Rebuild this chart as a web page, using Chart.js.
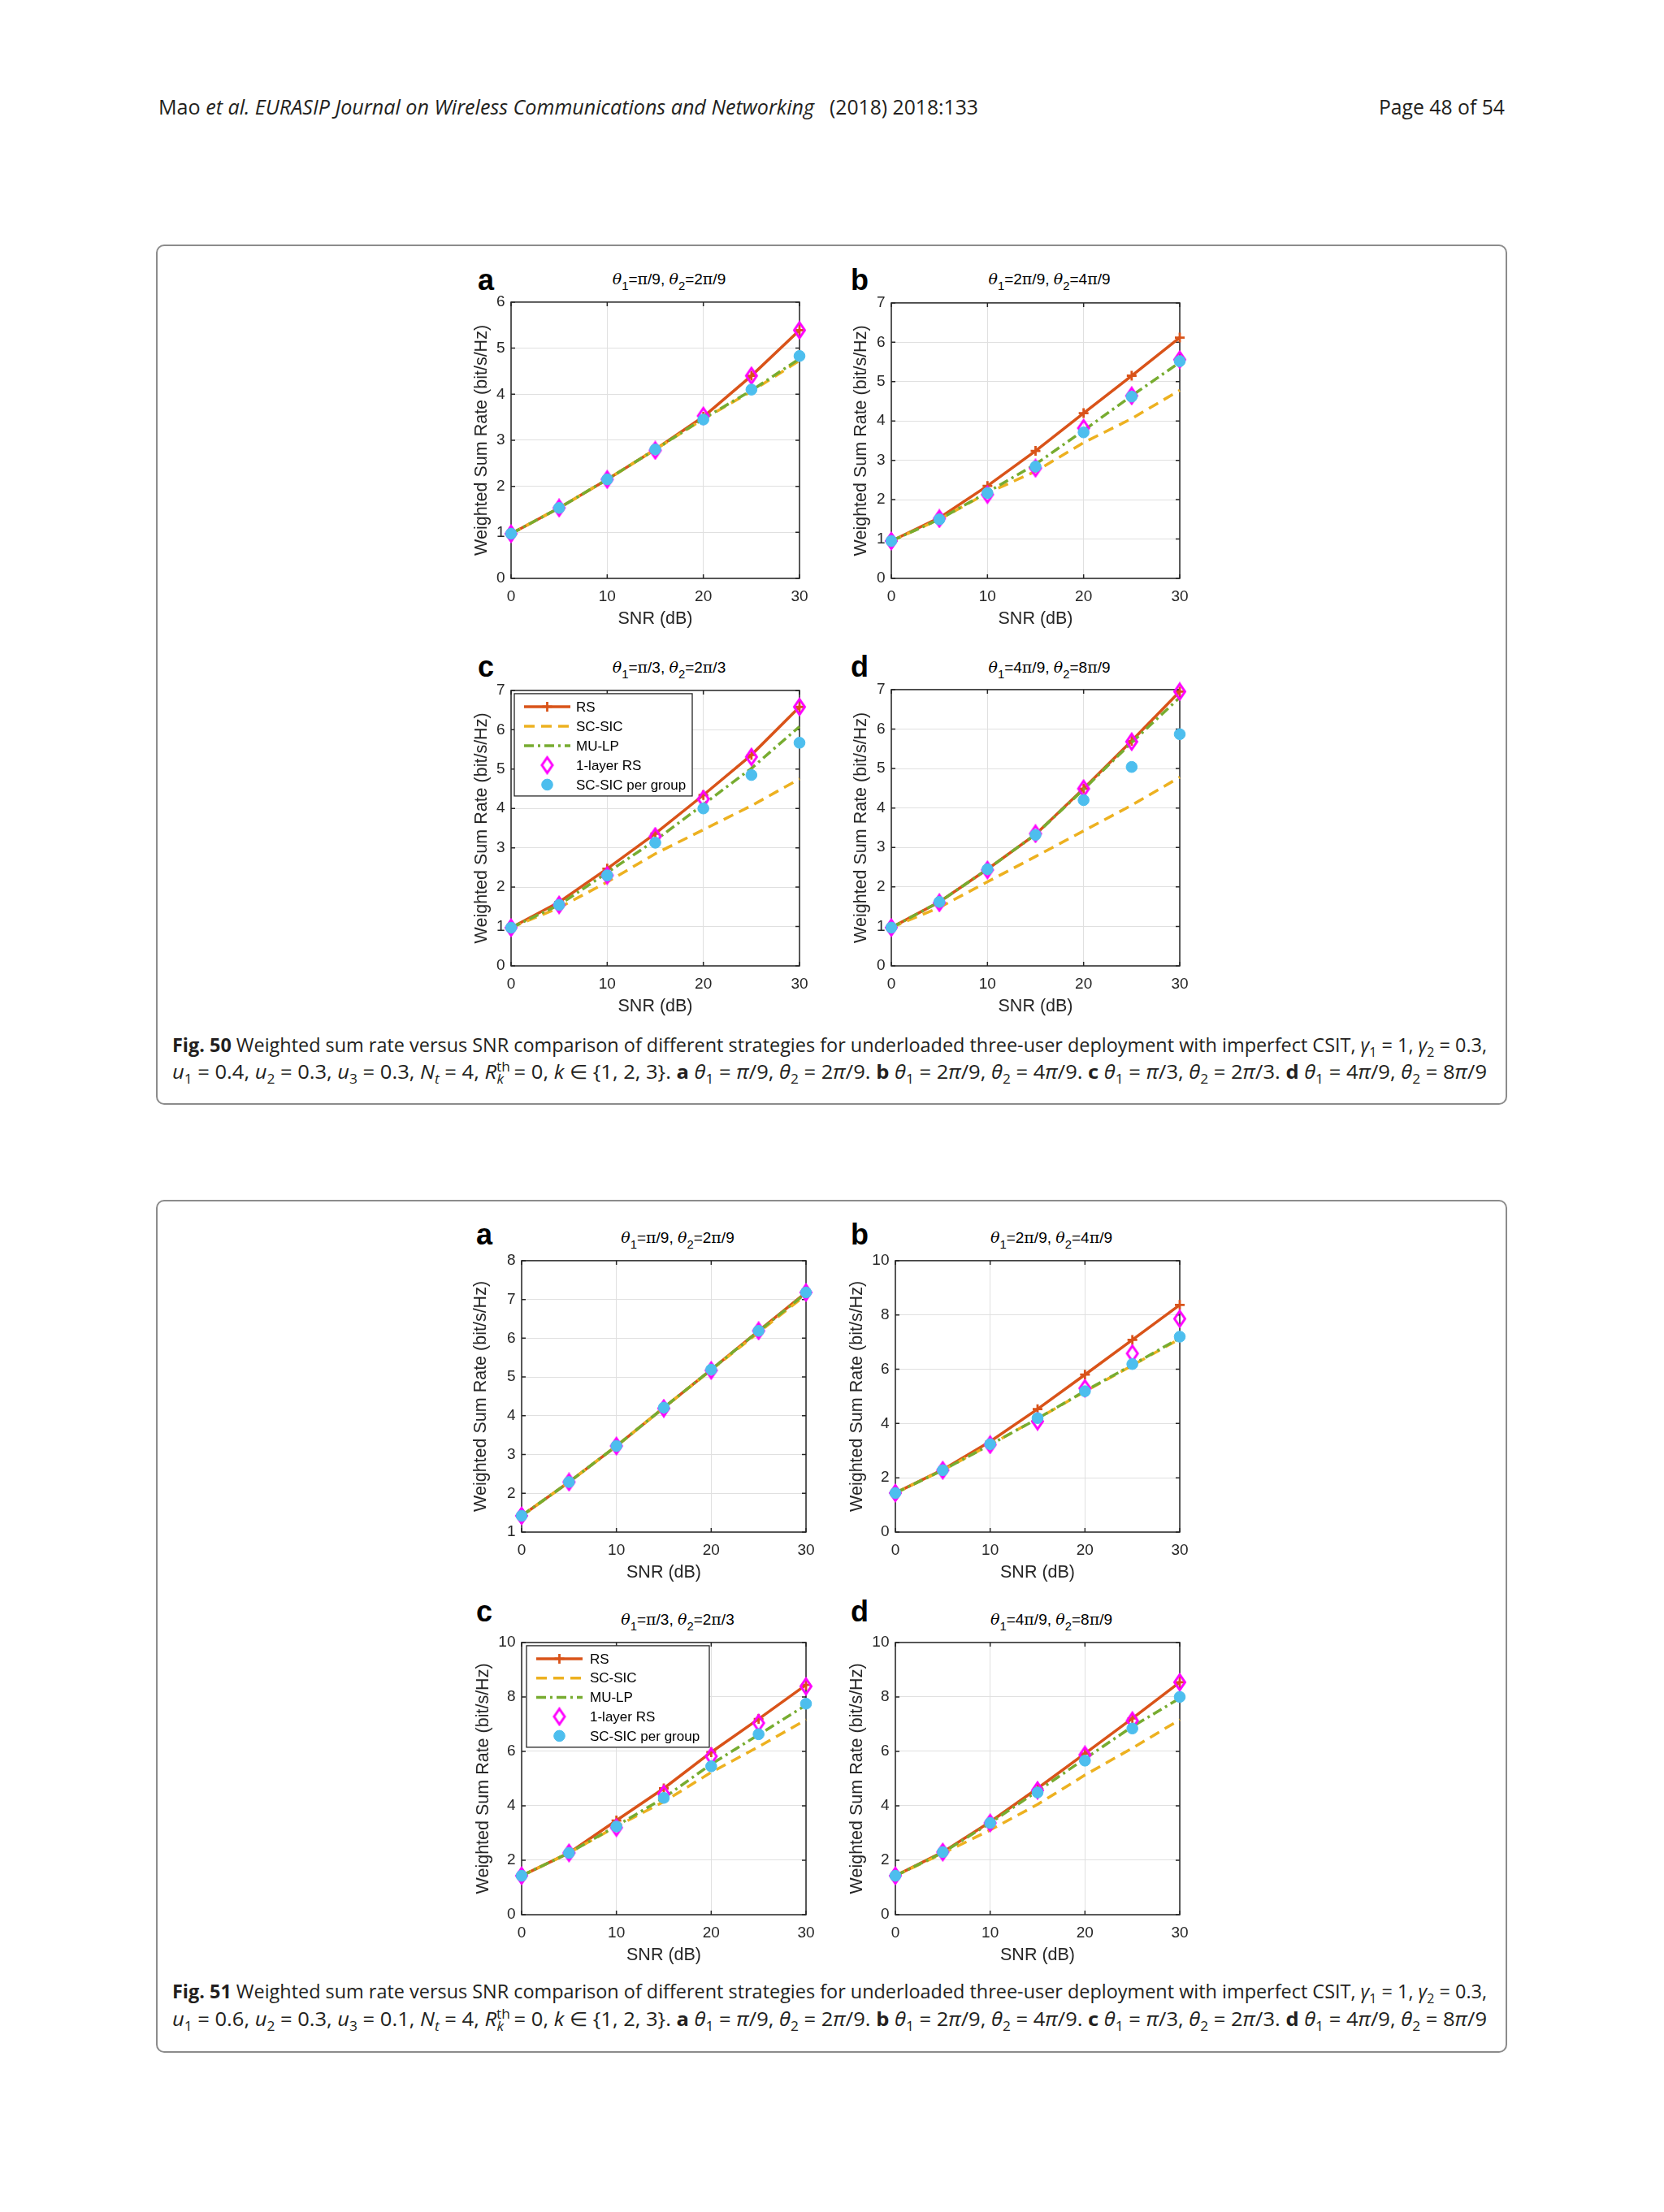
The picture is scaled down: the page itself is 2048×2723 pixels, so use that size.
<!DOCTYPE html>
<html lang="en">
<head>
<meta charset="utf-8">
<title>Weighted sum rate versus SNR</title>
<script src="https://cdn.jsdelivr.net/npm/chart.js@4.4.1/dist/chart.umd.min.js"></script>
<style>
  html, body { margin: 0; padding: 0; background: #fff; }
  body { position: relative; width: 2048px; height: 2723px; overflow: hidden; color: #231f20; }
  .txt { position: absolute; white-space: nowrap; line-height: 1; font-family: "Open Sans", "Noto Sans", sans-serif; }
  .hdr { font-size: 26px; top: 118px; }
  .cap { font-size: 24px; left: 212px; }
  .txt sub, .txt sup { font-size: 68%; line-height: 0; }
  .figbox { position: absolute; left: 192px; width: 1663px; border: 2px solid #8c8c8c; border-radius: 10px; box-sizing: border-box; }
  .letter { position: absolute; font: bold 36px "Liberation Sans", Arial, sans-serif; line-height: 1; color: #000; }
  .ptitle { position: absolute; font: 19px "Liberation Sans", Arial, sans-serif; line-height: 1; white-space: nowrap; color: #000; transform: translateX(-50%); }
  .ptitle i { font-family: "DejaVu Serif", serif; font-style: italic; }
  .ptitle sub { font-size: 78%; vertical-align: -0.45em; line-height: 0; }
  .sym { font-family: "DejaVu Serif", serif; }
  canvas { position: absolute; }
</style>
</head>
<body>

<div class="txt hdr" style="left:195px" data-w="807">Mao <i>et al. EURASIP Journal on Wireless Communications and Networking</i></div>
<div class="txt hdr" style="left:1021px" data-w="183">(2018) 2018:133</div>
<div class="txt hdr" style="right:196px" data-w="155" data-align="right">Page 48 of 54</div>

<div class="figbox" style="top:301px;height:1059px"></div>
<div class="figbox" style="top:1477px;height:1050px"></div>

<div class="txt cap" style="top:1274px" data-w="1618"><b>Fig. 50</b> Weighted sum rate versus SNR comparison of different strategies for underloaded three-user deployment with imperfect CSIT, <i>γ</i><sub>1</sub> = 1, <i>γ</i><sub>2</sub> = 0.3,</div>
<div class="txt cap" style="top:1307px" data-w="1618"><i>u</i><sub>1</sub> = 0.4, <i>u</i><sub>2</sub> = 0.3, <i>u</i><sub>3</sub> = 0.3, <i>N<sub>t</sub></i> = 4, <i>R</i><sup>th</sup><sub style="margin-left:-0.95em;margin-right:0.35em"><i>k</i></sub> = 0, <i>k</i> ∈ {1, 2, 3}. <b>a</b> <i>θ</i><sub>1</sub> = <i>π</i>/9, <i>θ</i><sub>2</sub> = 2<i>π</i>/9. <b>b</b> <i>θ</i><sub>1</sub> = 2<i>π</i>/9, <i>θ</i><sub>2</sub> = 4<i>π</i>/9. <b>c</b> <i>θ</i><sub>1</sub> = <i>π</i>/3, <i>θ</i><sub>2</sub> = 2<i>π</i>/3. <b>d</b> <i>θ</i><sub>1</sub> = 4<i>π</i>/9, <i>θ</i><sub>2</sub> = 8<i>π</i>/9</div>

<div class="txt cap" style="top:2439px" data-w="1618"><b>Fig. 51</b> Weighted sum rate versus SNR comparison of different strategies for underloaded three-user deployment with imperfect CSIT, <i>γ</i><sub>1</sub> = 1, <i>γ</i><sub>2</sub> = 0.3,</div>
<div class="txt cap" style="top:2473px" data-w="1618"><i>u</i><sub>1</sub> = 0.6, <i>u</i><sub>2</sub> = 0.3, <i>u</i><sub>3</sub> = 0.1, <i>N<sub>t</sub></i> = 4, <i>R</i><sup>th</sup><sub style="margin-left:-0.95em;margin-right:0.35em"><i>k</i></sub> = 0, <i>k</i> ∈ {1, 2, 3}. <b>a</b> <i>θ</i><sub>1</sub> = <i>π</i>/9, <i>θ</i><sub>2</sub> = 2<i>π</i>/9. <b>b</b> <i>θ</i><sub>1</sub> = 2<i>π</i>/9, <i>θ</i><sub>2</sub> = 4<i>π</i>/9. <b>c</b> <i>θ</i><sub>1</sub> = <i>π</i>/3, <i>θ</i><sub>2</sub> = 2<i>π</i>/3. <b>d</b> <i>θ</i><sub>1</sub> = 4<i>π</i>/9, <i>θ</i><sub>2</sub> = 8<i>π</i>/9</div>

<script>
// x axis, shared by every panel
const snr = [0, 5, 10, 15, 20, 25, 30];
const seriesNames = ['RS', 'SC-SIC', 'MU-LP', '1-layer RS', 'SC-SIC per group'];

// Fig. 50 (u = 0.4, 0.3, 0.3)
const f50aRS    = [0.97, 1.53, 2.15, 2.80, 3.51, 4.40, 5.39];
const f50aSCSIC = [0.97, 1.53, 2.15, 2.80, 3.46, 4.06, 4.73];
const f50aMULP  = [0.97, 1.53, 2.15, 2.80, 3.47, 4.08, 4.77];
const f50aL1    = [0.97, 1.53, 2.15, 2.78, 3.53, 4.40, 5.39];
const f50aPG    = [0.97, 1.53, 2.15, 2.80, 3.45, 4.10, 4.83];

const f50bRS    = [0.95, 1.54, 2.35, 3.24, 4.20, 5.15, 6.12];
const f50bSCSIC = [0.95, 1.50, 2.17, 2.72, 3.45, 4.06, 4.78];
const f50bMULP  = [0.95, 1.50, 2.19, 2.90, 3.76, 4.64, 5.49];
const f50bL1    = [0.95, 1.52, 2.13, 2.80, 3.82, 4.64, 5.56];
const f50bPG    = [0.95, 1.50, 2.17, 2.84, 3.71, 4.62, 5.52];

const f50cRS    = [0.97, 1.62, 2.47, 3.36, 4.34, 5.36, 6.58];
const f50cSCSIC = [0.97, 1.48, 2.13, 2.85, 3.46, 4.07, 4.75];
const f50cMULP  = [0.97, 1.55, 2.37, 3.19, 4.10, 5.02, 6.08];
const f50cL1    = [0.97, 1.55, 2.30, 3.29, 4.24, 5.31, 6.58];
const f50cPG    = [0.97, 1.55, 2.30, 3.13, 4.00, 4.85, 5.67];

const f50dRS    = [0.97, 1.62, 2.45, 3.33, 4.49, 5.70, 6.95];
const f50dSCSIC = [0.97, 1.48, 2.13, 2.77, 3.42, 4.07, 4.78];
const f50dMULP  = [0.97, 1.62, 2.45, 3.33, 4.47, 5.66, 6.80];
const f50dL1    = [0.97, 1.60, 2.43, 3.35, 4.49, 5.68, 6.95];
const f50dPG    = [0.97, 1.62, 2.45, 3.32, 4.20, 5.04, 5.87];

// Fig. 51 (u = 0.6, 0.3, 0.1)
const f51aRS    = [1.42, 2.29, 3.22, 4.21, 5.19, 6.19, 7.18];
const f51aSCSIC = [1.42, 2.29, 3.22, 4.21, 5.18, 6.15, 7.12];
const f51aMULP  = [1.42, 2.29, 3.22, 4.21, 5.19, 6.18, 7.16];
const f51aL1    = [1.42, 2.29, 3.22, 4.19, 5.17, 6.19, 7.18];
const f51aPG    = [1.42, 2.29, 3.22, 4.21, 5.19, 6.19, 7.18];

const f51bRS    = [1.44, 2.30, 3.34, 4.53, 5.80, 7.08, 8.37];
const f51bSCSIC = [1.44, 2.28, 3.22, 4.18, 5.18, 6.14, 7.12];
const f51bMULP  = [1.44, 2.28, 3.22, 4.18, 5.20, 6.16, 7.15];
const f51bL1    = [1.44, 2.28, 3.22, 4.08, 5.30, 6.58, 7.86];
const f51bPG    = [1.44, 2.28, 3.24, 4.20, 5.19, 6.19, 7.20];

const f51cRS    = [1.43, 2.27, 3.46, 4.64, 5.97, 7.19, 8.44];
const f51cSCSIC = [1.43, 2.27, 3.24, 4.15, 5.23, 6.17, 7.16];
const f51cMULP  = [1.43, 2.27, 3.26, 4.29, 5.53, 6.61, 7.70];
const f51cL1    = [1.43, 2.27, 3.20, 4.44, 5.82, 7.04, 8.39];
const f51cPG    = [1.43, 2.27, 3.24, 4.29, 5.45, 6.63, 7.75];

const f51dRS    = [1.43, 2.30, 3.41, 4.64, 5.92, 7.21, 8.54];
const f51dSCSIC = [1.43, 2.25, 3.11, 4.05, 5.13, 6.12, 7.16];
const f51dMULP  = [1.43, 2.28, 3.37, 4.54, 5.73, 6.91, 7.95];
const f51dL1    = [1.43, 2.30, 3.37, 4.57, 5.87, 7.13, 8.54];
const f51dPG    = [1.43, 2.30, 3.37, 4.49, 5.66, 6.84, 8.00];

// panel layout: plot box [left, top, right, bottom] in page px
const panels = [
  { letter: 'a', th: ['π/9', '2π/9'],  box: [629, 369, 984, 712],    y: [0, 6, 1],  yTitleOff: 36, letterAt: [588, 357],  titleBase: 350,  series: [f50aRS, f50aSCSIC, f50aMULP, f50aL1, f50aPG] },
  { letter: 'b', th: ['2π/9', '4π/9'], box: [1097, 370, 1452, 712],  y: [0, 7, 1],  yTitleOff: 37, letterAt: [1047, 357], titleBase: 350,  series: [f50bRS, f50bSCSIC, f50bMULP, f50bL1, f50bPG] },
  { letter: 'c', th: ['π/3', '2π/3'],  box: [629, 847, 984, 1189],   y: [0, 7, 1],  yTitleOff: 36, letterAt: [588, 833],  titleBase: 828,  series: [f50cRS, f50cSCSIC, f50cMULP, f50cL1, f50cPG], legend: { dx: 4, dy: 4, w: 219, textX: 76, rowH: 24 } },
  { letter: 'd', th: ['4π/9', '8π/9'], box: [1097, 846, 1452, 1189], y: [0, 7, 1],  yTitleOff: 37, letterAt: [1047, 833], titleBase: 828,  series: [f50dRS, f50dSCSIC, f50dMULP, f50dL1, f50dPG] },
  { letter: 'a', th: ['π/9', '2π/9'],  box: [642, 1549, 992, 1886],  y: [1, 8, 1],  yTitleOff: 50, letterAt: [586, 1532], titleBase: 1530, series: [f51aRS, f51aSCSIC, f51aMULP, f51aL1, f51aPG] },
  { letter: 'b', th: ['2π/9', '4π/9'], box: [1102, 1549, 1452, 1886], y: [0, 10, 2], yTitleOff: 47, letterAt: [1047, 1532], titleBase: 1530, series: [f51bRS, f51bSCSIC, f51bMULP, f51bL1, f51bPG] },
  { letter: 'c', th: ['π/3', '2π/3'],  box: [642, 2019, 992, 2357],  y: [0, 10, 2], yTitleOff: 47, letterAt: [586, 1996], titleBase: 2000, series: [f51cRS, f51cSCSIC, f51cMULP, f51cL1, f51cPG], legend: { dx: 6, dy: 4, w: 225, textX: 78, rowH: 23.75 } },
  { letter: 'd', th: ['4π/9', '8π/9'], box: [1102, 2019, 1452, 2357], y: [0, 10, 2], yTitleOff: 47, letterAt: [1047, 1996], titleBase: 2000, series: [f51dRS, f51dSCSIC, f51dMULP, f51dL1, f51dPG] }
];

const AXIS = '#262626';
const FONT = '"Liberation Sans", Arial, sans-serif';

// open magenta diamond marker (MATLAB 'd')
const diamond = document.createElement('canvas');
diamond.width = 20; diamond.height = 24;
(() => {
  const c = diamond.getContext('2d');
  c.strokeStyle = '#FF00FF';
  c.lineWidth = 3;
  c.lineJoin = 'miter';
  c.beginPath();
  c.moveTo(10, 2.5); c.lineTo(16.5, 12); c.lineTo(10, 21.5); c.lineTo(3.5, 12); c.closePath();
  c.stroke();
})();

function makeDatasets(series) {
  const pts = vals => snr.map((x, i) => ({ x, y: vals[i] }));
  return [
    { label: seriesNames[0], data: pts(series[0]), borderColor: '#D95319', borderWidth: 3.5,
      pointStyle: 'cross', pointRadius: 6, pointBorderWidth: 2.8, pointBorderColor: '#D95319', pointBackgroundColor: '#D95319', order: 5 },
    { label: seriesNames[1], data: pts(series[1]), borderColor: '#EDB120', borderWidth: 3.5, borderDash: [13, 8],
      pointRadius: 0, order: 4 },
    { label: seriesNames[2], data: pts(series[2]), borderColor: '#77AC30', borderWidth: 3.5, borderDash: [12, 5, 3, 5],
      pointRadius: 0, order: 3 },
    { label: seriesNames[3], data: pts(series[3]), showLine: false, borderColor: '#FF00FF',
      pointStyle: diamond, pointRadius: 8, order: 2 },
    { label: seriesNames[4], data: pts(series[4]), showLine: false, borderColor: '#4DBEEE',
      pointStyle: 'circle', pointRadius: 6.8, pointBorderWidth: 1, pointBorderColor: '#4DBEEE', pointBackgroundColor: '#4DBEEE', order: 1 }
  ];
}

// MATLAB-like box with inward ticks on all four sides
const axesBox = {
  id: 'axesBox',
  beforeDatasetsDraw(chart) {
    const { ctx, chartArea: a, scales: { x, y } } = chart;
    ctx.save();
    ctx.strokeStyle = AXIS;
    ctx.lineWidth = 1.5;
    ctx.strokeRect(a.left, a.top, a.right - a.left, a.bottom - a.top);
    ctx.beginPath();
    const len = 5;
    x.ticks.forEach(t => {
      const px = x.getPixelForValue(t.value);
      ctx.moveTo(px, a.bottom); ctx.lineTo(px, a.bottom - len);
      ctx.moveTo(px, a.top); ctx.lineTo(px, a.top + len);
    });
    y.ticks.forEach(t => {
      const py = y.getPixelForValue(t.value);
      ctx.moveTo(a.left, py); ctx.lineTo(a.left + len, py);
      ctx.moveTo(a.right, py); ctx.lineTo(a.right - len, py);
    });
    ctx.stroke();
    ctx.restore();
  }
};

function drawMarker(ctx, ds, x, y) {
  const st = ds.pointStyle;
  if (st instanceof HTMLCanvasElement) {
    ctx.drawImage(st, x - st.width / 2, y - st.height / 2);
    return;
  }
  if (!ds.pointRadius) return;
  const r = ds.pointRadius;
  ctx.lineWidth = ds.pointBorderWidth;
  ctx.strokeStyle = ds.pointBorderColor;
  ctx.fillStyle = ds.pointBackgroundColor;
  ctx.beginPath();
  if (st === 'cross') {
    ctx.moveTo(x - r, y); ctx.lineTo(x + r, y);
    ctx.moveTo(x, y - r); ctx.lineTo(x, y + r);
    ctx.stroke();
  } else {
    ctx.arc(x, y, r, 0, Math.PI * 2);
    ctx.fill();
    ctx.stroke();
  }
}

// legend box inside the axes (top-left), like MATLAB's
const boxLegend = {
  id: 'boxLegend',
  afterDatasetsDraw(chart, args, opts) {
    if (!opts || !opts.w) return;
    const { ctx, chartArea: a } = chart;
    const items = chart.data.datasets;
    const bx = a.left + opts.dx, by = a.top + opts.dy;
    const h = 16 + opts.rowH * (items.length - 1) + 14;
    ctx.save();
    ctx.fillStyle = '#fff';
    ctx.fillRect(bx, by, opts.w, h);
    ctx.strokeStyle = AXIS;
    ctx.lineWidth = 1.3;
    ctx.strokeRect(bx, by, opts.w, h);
    ctx.font = '17px ' + FONT;
    ctx.textBaseline = 'middle';
    items.forEach((d, i) => {
      const cy = by + 16 + i * opts.rowH;
      const x0 = bx + 12, x1 = x0 + 57;
      if (d.showLine !== false) {
        ctx.setLineDash(d.borderDash || []);
        ctx.strokeStyle = d.borderColor;
        ctx.lineWidth = d.borderWidth;
        ctx.beginPath(); ctx.moveTo(x0, cy); ctx.lineTo(x1, cy); ctx.stroke();
        ctx.setLineDash([]);
      }
      drawMarker(ctx, d, (x0 + x1) / 2, cy);
      ctx.fillStyle = '#000';
      ctx.fillText(d.label, bx + opts.textX, cy + 1);
    });
    ctx.restore();
  }
};

const piHtml = s => s.replace('π', '<span class="sym">π</span>');

panels.forEach(p => {
  const [L, T, R, B] = p.box;
  const yw = Math.round(p.yTitleOff + 13);
  const PT = 16, PR = 24, XH = 63;

  const letter = document.createElement('div');
  letter.className = 'letter';
  letter.textContent = p.letter;
  letter.style.left = p.letterAt[0] + 'px';
  letter.style.top = (p.letterAt[1] - 0.8465 * 36) + 'px';
  document.body.appendChild(letter);

  const title = document.createElement('div');
  title.className = 'ptitle';
  title.innerHTML = '<i>θ</i><sub>1</sub>=' + piHtml(p.th[0]) + ', <i>θ</i><sub>2</sub>=' + piHtml(p.th[1]);
  title.style.left = ((L + R) / 2 + 17) + 'px';
  title.style.top = (p.titleBase - 0.8465 * 19) + 'px';
  document.body.appendChild(title);

  const cv = document.createElement('canvas');
  const W = yw + (R - L) + PR, H = PT + (B - T) + XH;
  cv.width = W; cv.height = H;
  cv.style.width = W + 'px'; cv.style.height = H + 'px';
  cv.style.left = (L - yw) + 'px';
  cv.style.top = (T - PT) + 'px';
  document.body.appendChild(cv);

  new Chart(cv, {
    type: 'line',
    data: { datasets: makeDatasets(p.series) },
    options: {
      responsive: false,
      animation: false,
      devicePixelRatio: 1,
      elements: { line: { tension: 0 } },
      datasets: { line: { clip: false } },
      layout: { padding: { top: PT, right: PR, left: 0, bottom: 0 } },
      plugins: {
        legend: { display: false },
        tooltip: { enabled: false },
        boxLegend: p.legend || {}
      },
      scales: {
        x: {
          type: 'linear', min: 0, max: 30,
          ticks: { stepSize: 10, padding: 11.6, color: AXIS, font: { family: FONT, size: 19 } },
          grid: { color: '#e0e0e0', lineWidth: 1, drawTicks: false },
          border: { display: false },
          title: { display: true, text: 'SNR (dB)', color: AXIS, padding: 0, font: { family: FONT, size: 21.5 } },
          afterFit: s => { s.height = XH; }
        },
        y: {
          type: 'linear', min: p.y[0], max: p.y[1],
          ticks: { stepSize: p.y[2], padding: 7.5, color: AXIS, font: { family: FONT, size: 19 } },
          grid: { color: '#e0e0e0', lineWidth: 1, drawTicks: false },
          border: { display: false },
          title: { display: true, text: 'Weighted Sum Rate (bit/s/Hz)', color: AXIS, padding: 0, font: { family: FONT, size: 21.5 } },
          afterFit: s => { s.width = yw; }
        }
      }
    },
    plugins: [axesBox, boxLegend]
  });
});

// squeeze running text to the measured line widths
function fitText() {
  document.querySelectorAll('[data-w]').forEach(el => {
    el.style.transform = 'none';
    const w = el.getBoundingClientRect().width;
    el.style.transformOrigin = el.dataset.align === 'right' ? 'right top' : 'left top';
    el.style.transform = 'scaleX(' + (+el.dataset.w / w) + ')';
  });
}
fitText();
if (document.fonts) document.fonts.ready.then(fitText);
</script>
</body>
</html>
